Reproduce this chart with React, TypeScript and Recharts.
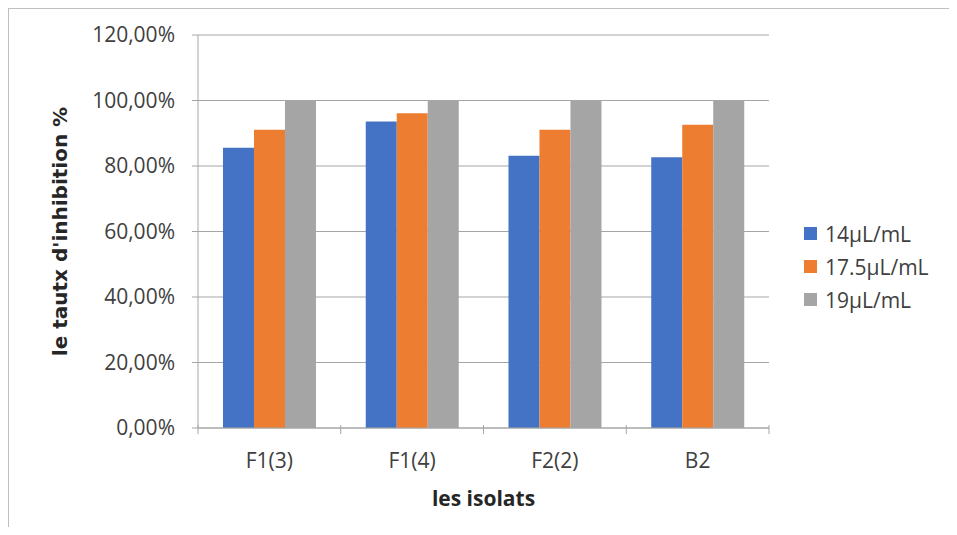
import React from "react";
import {
  Bar,
  BarChart,
  CartesianGrid,
  Label,
  Legend,
  XAxis,
  YAxis,
} from "recharts";

const isolats = ["F1(3)", "F1(4)", "F2(2)", "B2"];
const dose14 = [0.856, 0.936, 0.831, 0.827];
const dose175 = [0.911, 0.961, 0.911, 0.926];
const dose19 = [1.0, 1.0, 1.0, 1.0];
const yTicks = [0, 0.2, 0.4, 0.6, 0.8, 1.0, 1.2];

const series = [
  { key: "d14", name: "14µL/mL", color: "#4472C4" },
  { key: "d175", name: "17.5µL/mL", color: "#ED7D31" },
  { key: "d19", name: "19µL/mL", color: "#A5A5A5" },
];

const data = isolats.map((name, i) => ({
  name,
  d14: dose14[i],
  d175: dose175[i],
  d19: dose19[i],
}));

const FONT = "'Open Sans', 'Liberation Sans', sans-serif";
const AXIS = "#a6a6a6";

const pct = (v: number) => (v * 100).toFixed(2).replace(".", ",") + "%";

// category tick: label in the middle, tick marks on the band edges like Excel
const XTick = (props: any) => {
  const { x, y, payload, index, width } = props;
  const half = payload?.offset || width / isolats.length / 2;
  const axisY = y - 16;
  return (
    <g>
      <line x1={x - half} x2={x - half} y1={axisY - 9} y2={axisY} stroke={AXIS} />
      {index === isolats.length - 1 && (
        <line x1={x + half} x2={x + half} y1={axisY - 9} y2={axisY} stroke={AXIS} />
      )}
      <text
        x={x}
        y={y}
        dy="0.85em"
        textAnchor="middle"
        fill="#404040"
        fontSize={21}
        fontFamily={FONT}
      >
        {payload.value}
      </text>
    </g>
  );
};

const LegendBox = () => (
  <div style={{ fontFamily: FONT, fontSize: 21, color: "#404040" }}>
    {series.map((s) => (
      <div
        key={s.key}
        style={{ height: 33, display: "flex", alignItems: "center" }}
      >
        <span
          style={{
            width: 13,
            height: 13,
            background: s.color,
            display: "inline-block",
            marginRight: 8,
          }}
        />
        {s.name}
      </div>
    ))}
  </div>
);

export default function App() {
  return (
    <div
      style={{
        borderLeft: "1px solid #bfbfbf",
        borderTop: "1px solid #bfbfbf",
        width: 940,
        height: 518,
      }}
    >
      <BarChart
        width={940}
        height={518}
        data={data}
        margin={{ top: 26, right: 180, left: 0, bottom: 0 }}
        barCategoryGap="17.5%"
        barGap={0}
      >
        <CartesianGrid vertical={false} stroke={AXIS} />
        <XAxis
          dataKey="name"
          height={99}
          stroke={AXIS}
          tickLine={false}
          tickMargin={16}
          tick={<XTick />}
        >
          <Label
            content={({ viewBox }: any) => (
              <text
                x={viewBox.x + viewBox.width / 2}
                y={viewBox.y + 70}
                textAnchor="middle"
                dominantBaseline="central"
                fontFamily={FONT}
                fontWeight="bold"
                fontSize={21}
                fill="#262626"
              >
                les isolats
              </text>
            )}
          />
        </XAxis>
        <YAxis
          width={189}
          domain={[0, 1.2]}
          ticks={yTicks}
          interval={0}
          tickFormatter={pct}
          stroke={AXIS}
          tickSize={6}
          tickMargin={17}
          tick={{ fill: "#404040", fontSize: 21, fontFamily: FONT }}
        >
          <Label
            content={({ viewBox }: any) => {
              const cx = 51;
              const cy = viewBox.y + viewBox.height / 2;
              return (
                <text
                  x={cx}
                  y={cy}
                  transform={`rotate(-90 ${cx} ${cy})`}
                  textAnchor="middle"
                  dominantBaseline="central"
                  fontFamily="'DejaVu Sans', sans-serif"
                  fontWeight="bold"
                  fontSize={20}
                  fill="#262626"
                >
                  le tautx d'inhibition %
                </text>
              );
            }}
          />
        </YAxis>
        <Legend
          layout="vertical"
          align="center"
          verticalAlign="middle"
          wrapperStyle={{ left: 795, top: 208, width: 150 }}
          content={<LegendBox />}
        />
        {series.map((s) => (
          <Bar
            key={s.key}
            dataKey={s.key}
            name={s.name}
            fill={s.color}
            isAnimationActive={false}
          />
        ))}
      </BarChart>
    </div>
  );
}
